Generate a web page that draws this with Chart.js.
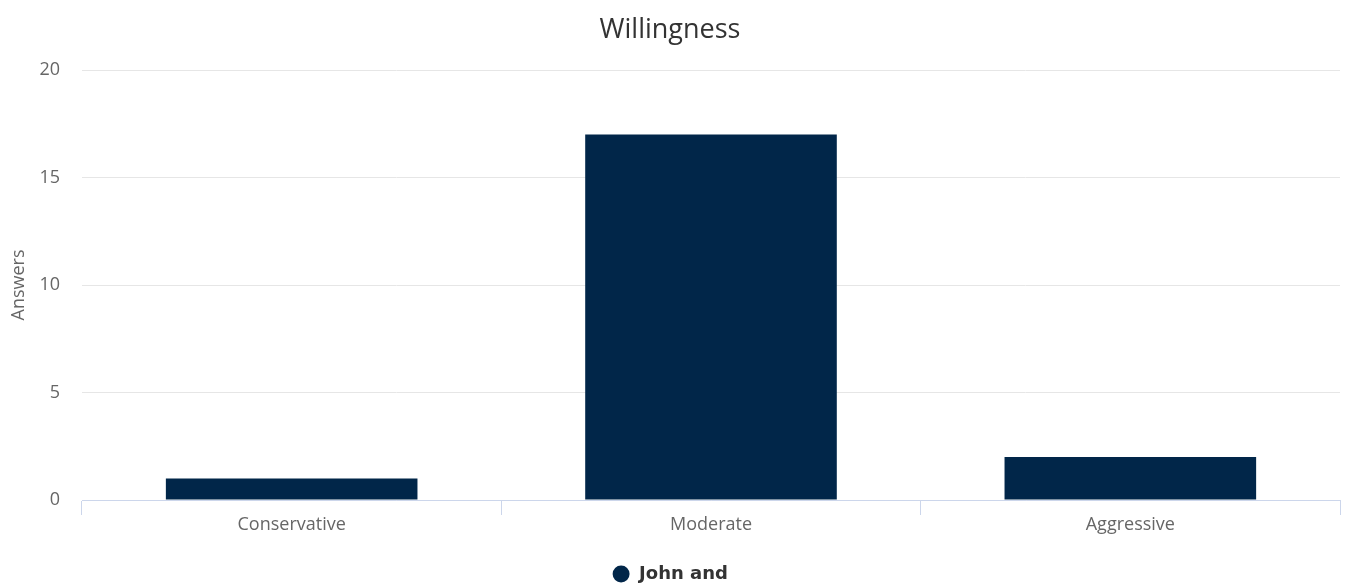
<!DOCTYPE html>
<html>
<head>
<meta charset="utf-8">
<title>Willingness</title>
<script src="https://cdn.jsdelivr.net/npm/chart.js@4/dist/chart.umd.min.js"></script>
<style>
    html, body { margin: 0; padding: 0; background: #fff; }
    #wrap { width: 1354px; height: 586px; position: relative; }
</style>
</head>
<body>
<div id="wrap"><canvas id="willChart"></canvas></div>
<script>
// データ
const categories = ['Conservative', 'Moderate', 'Aggressive'];
const answers = [1, 17, 2];
const seriesName = 'John and';
const yTicks = [0, 5, 10, 15, 20];

const barColor = '#012649';
const fontFamily = '"Open Sans", "DejaVu Sans", sans-serif';

document.addEventListener('DOMContentLoaded', () => {
    const ctx = document.getElementById('willChart').getContext('2d');

    new Chart(ctx, {
        type: 'bar',
        data: {
            labels: categories,
            datasets: [{
                label: seriesName,
                data: answers,
                backgroundColor: barColor,
                borderWidth: 0,
                categoryPercentage: 1.0,
                barPercentage: 0.6,
            }],
        },
        options: {
            responsive: true,
            maintainAspectRatio: false,
            animation: false,
            layout: {
                // 凡例をキャンバス下端寄りに置くため下は負の余白
                padding: { left: 0, right: 14, top: 0, bottom: -7 },
            },
            plugins: {
                title: {
                    display: true,
                    text: 'Willingness',
                    color: '#333333',
                    font: { family: fontFamily, size: 27, weight: 'normal' },
                    padding: { top: 14, bottom: 23.6 },
                },
                legend: {
                    display: true,
                    position: 'bottom',
                    labels: {
                        usePointStyle: true,
                        pointStyle: 'circle',
                        boxWidth: 18,
                        boxHeight: 12,
                        padding: 2,
                        color: '#333333',
                        font: { family: '"DejaVu Sans", sans-serif', size: 18, weight: 'bold' },
                    },
                },
                tooltip: { enabled: false },
            },
            scales: {
                x: {
                    afterFit: (scale) => { scale.height = 63; },
                    grid: {
                        offset: true,
                        drawOnChartArea: false,
                        drawTicks: true,
                        tickLength: 15,
                        color: '#ccd6eb',
                    },
                    border: { display: true, color: '#ccd6eb' },
                    ticks: {
                        color: '#666666',
                        padding: -1,
                        font: { family: fontFamily, size: 18 },
                    },
                },
                y: {
                    min: 0,
                    max: 20,
                    afterFit: (scale) => { scale.width = 82; },
                    afterBuildTicks: (scale) => {
                        scale.ticks = yTicks.map(v => ({ value: v }));
                    },
                    grid: {
                        color: '#e6e6e6',
                        drawTicks: false,
                    },
                    border: { display: false },
                    ticks: {
                        color: '#666666',
                        padding: 22,
                        font: { family: fontFamily, size: 18 },
                    },
                    title: {
                        display: true,
                        text: 'Answers',
                        color: '#666666',
                        font: { family: fontFamily, size: 18 },
                        padding: { top: 8, bottom: 0 },
                    },
                },
            },
        },
    });
});
</script>
</body>
</html>
